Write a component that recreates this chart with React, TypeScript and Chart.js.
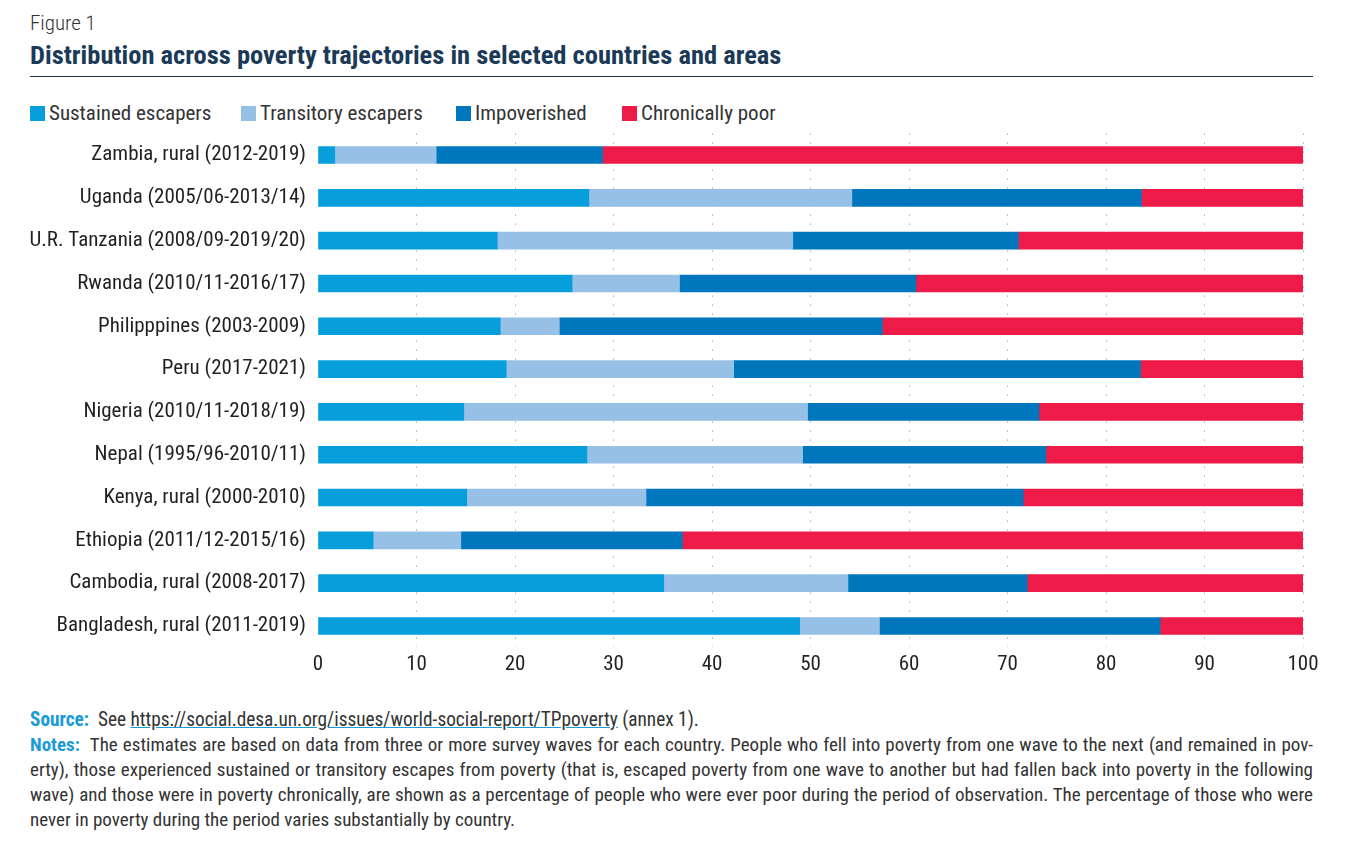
import React, { useEffect, useRef } from "react";
import { Chart, registerables } from "chart.js";

Chart.register(...registerables);

const categories = [
  "Zambia, rural (2012-2019)",
  "Uganda (2005/06-2013/14)",
  "U.R. Tanzania (2008/09-2019/20)",
  "Rwanda (2010/11-2016/17)",
  "Philipppines (2003-2009)",
  "Peru (2017-2021)",
  "Nigeria (2010/11-2018/19)",
  "Nepal (1995/96-2010/11)",
  "Kenya, rural (2000-2010)",
  "Ethiopia (2011/12-2015/16)",
  "Cambodia, rural (2008-2017)",
  "Bangladesh, rural (2011-2019)",
];

const sustainedEscapers = [1.7, 27.5, 18.2, 25.8, 18.5, 19.1, 14.8, 27.3, 15.1, 5.6, 35.1, 48.9];
const transitoryEscapers = [10.3, 26.7, 30.0, 10.9, 6.0, 23.1, 34.9, 21.9, 18.2, 8.9, 18.7, 8.1];
const impoverished = [16.9, 29.4, 22.9, 24.0, 32.8, 41.3, 23.5, 24.7, 38.3, 22.5, 18.2, 28.5];
const chronicallyPoor = [71.1, 16.4, 28.9, 39.3, 42.7, 16.5, 26.8, 26.1, 28.4, 63.0, 28.0, 14.5];

const seriesNames = ["Sustained escapers", "Transitory escapers", "Impoverished", "Chronically poor"];
const seriesColors = ["#079FDB", "#96C0E6", "#0077BD", "#EE1A47"];
const xTicks = [0, 10, 20, 30, 40, 50, 60, 70, 80, 90, 100];

const notesLines = [
  "The estimates are based on data from three or more survey waves for each country. People who fell into poverty from one wave to the next (and remained in pov-",
  "erty), those experienced sustained or transitory escapes from poverty (that is, escaped poverty from one wave to another but had fallen back into poverty in the following",
  "wave) and those were in poverty chronically, are shown as a percentage of people who were ever poor during the period of observation. The percentage of those who were",
  "never in poverty during the period varies substantially by country.",
];

const FONT = '"Roboto Condensed", "Liberation Sans Narrow", "Arial Narrow", Roboto, sans-serif';
const TEXT = "#231F20";
const NAVY = "#1B3A57";

export default function App() {
  const ref = useRef<HTMLCanvasElement | null>(null);

  useEffect(() => {
    if (!ref.current) return;
    const values = [sustainedEscapers, transitoryEscapers, impoverished, chronicallyPoor];
    const chart = new Chart(ref.current, {
      type: "bar",
      data: {
        labels: categories,
        datasets: values.map((v, i) => ({
          label: seriesNames[i],
          data: v,
          backgroundColor: seriesColors[i],
          borderWidth: 0,
          barThickness: 17,
        })),
      },
      options: {
        indexAxis: "y",
        animation: false,
        responsive: false,
        maintainAspectRatio: false,
        layout: { padding: { top: 12.6, right: 45, left: 0, bottom: 0 } },
        plugins: {
          legend: { display: false },
          tooltip: { enabled: false },
        },
        scales: {
          x: {
            stacked: true,
            min: 0,
            max: 100,
            afterBuildTicks: (s: any) => {
              s.ticks = xTicks.map((v) => ({ value: v }));
            },
            afterFit: (s: any) => {
              s.height = 43.6;
              s.paddingLeft = 0;
              s.paddingRight = 0;
            },
            border: { display: false, dash: [1, 8] },
            grid: {
              display: true,
              color: (ctx: any) => (ctx.tick && ctx.tick.value === 0 ? "rgba(0,0,0,0)" : "#8a8a8a"),
              lineWidth: 1,
              drawTicks: false,
            } as any,
            ticks: {
              color: TEXT,
              font: { family: FONT, size: 21 },
              padding: 5,
              maxRotation: 0,
            },
          },
          y: {
            stacked: true,
            afterFit: (s: any) => {
              s.width = 318;
              s.paddingTop = 0;
              s.paddingBottom = 0;
            },
            border: { display: false },
            grid: { display: false, drawTicks: false },
            ticks: {
              color: TEXT,
              font: { family: FONT, size: 21 },
              padding: 12,
            },
          },
        },
      },
    });
    return () => chart.destroy();
  }, []);

  const legendLeft = [30, 241, 456, 622];

  return (
    <div
      style={{
        position: "absolute",
        left: 0,
        top: 0,
        width: 1348,
        height: 842,
        background: "#fff",
        fontFamily: FONT,
        color: TEXT,
      }}
    >
      <div style={{ position: "absolute", left: 30, top: 11, fontSize: 21, fontWeight: 300, color: "#333" }}>
        Figure 1
      </div>
      <div style={{ position: "absolute", left: 30, top: 39, fontSize: 26.5, fontWeight: 700, color: NAVY }}>
        Distribution across poverty trajectories in selected countries and areas
      </div>
      <div style={{ position: "absolute", left: 30, top: 76, width: 1283, height: 1, background: NAVY }} />
      {seriesNames.map((n, i) => (
        <div
          key={n}
          style={{ position: "absolute", left: legendLeft[i], top: 99, height: 28, display: "flex", alignItems: "center", fontSize: 21, color: "#333" }}
        >
          <span style={{ display: "inline-block", width: 15, height: 15, background: seriesColors[i], marginRight: 4 }} />
          <span>{n}</span>
        </div>
      ))}
      <canvas ref={ref} width={1348} height={570} style={{ position: "absolute", left: 0, top: 121, width: 1348, height: 570 }} />
      <div style={{ position: "absolute", left: 30, top: 707, width: 1283, fontSize: 19.3, lineHeight: "25px", color: "#333" }}>
        <div style={{ whiteSpace: "nowrap" }}>
          <b style={{ color: "#1A9BD7" }}>Source:</b>&nbsp; See{" "}
          <span style={{ textDecoration: "underline", textDecorationColor: "#1A9BD7" }}>
            https://social.desa.un.org/issues/world-social-report/TPpoverty
          </span>{" "}
          (annex 1).
        </div>
        {notesLines.map((l, i) => (
          <div
            key={i}
            style={{
              whiteSpace: "nowrap",
              fontSize: 19.0,
              textAlign: "justify",
              textAlignLast: i === notesLines.length - 1 ? "left" : "justify",
            } as any}
          >
            {i === 0 ? (
              <>
                <b style={{ color: "#1A9BD7" }}>Notes:</b>&nbsp; {l}
              </>
            ) : (
              l
            )}
          </div>
        ))}
      </div>
    </div>
  );
}
